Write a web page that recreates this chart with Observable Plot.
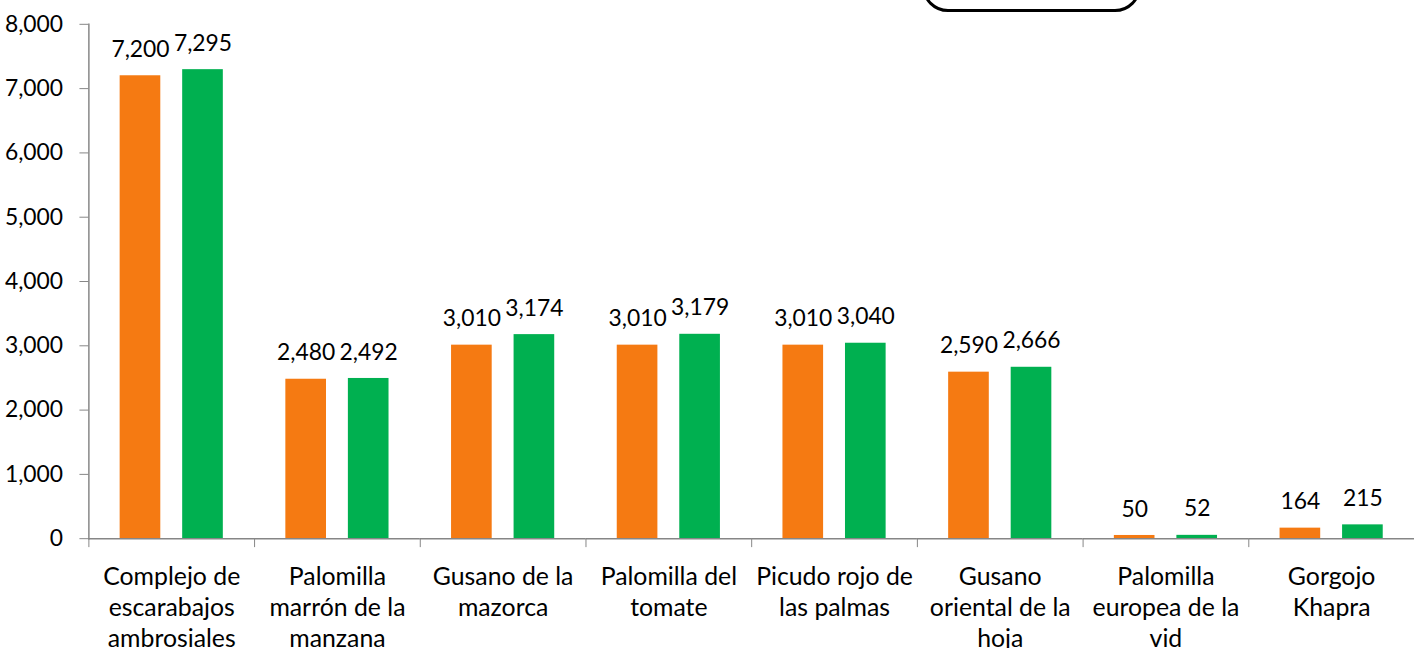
<!DOCTYPE html>
<html><head><meta charset="utf-8">
<script src="https://cdn.jsdelivr.net/npm/d3@7"></script>
<script src="https://cdn.jsdelivr.net/npm/@observablehq/plot@0.6"></script>
<style>
html,body{margin:0;padding:0;background:#fff;overflow:hidden;}
#wrap{position:relative;width:1414px;height:653px;overflow:hidden;}
#legendbox{position:absolute;left:922px;top:-42px;width:213px;height:48px;border:3px solid #000;border-radius:26px;}
</style></head><body>
<div id="wrap"><div id="chart"></div><div id="legendbox"></div></div>
<script>
const categories = [
  "Complejo de\nescarabajos\nambrosiales",
  "Palomilla\nmarrón de la\nmanzana",
  "Gusano de la\nmazorca",
  "Palomilla del\ntomate",
  "Picudo rojo de\nlas palmas",
  "Gusano\noriental de la\nhoja",
  "Palomilla\neuropea de la\nvid",
  "Gorgojo\nKhapra"
];
const seriesNames = ["Serie 1", "Serie 2"];
const valuesOrange = [7200, 2480, 3010, 3010, 3010, 2590, 50, 164];
const valuesGreen = [7295, 2492, 3174, 3179, 3040, 2666, 52, 215];
const yTicks = [0, 1000, 2000, 3000, 4000, 5000, 6000, 7000, 8000];
const seriesColors = ["#F57A12", "#00B050"];

const data = categories.flatMap((c, i) => [
  {cat: c, series: seriesNames[0], value: valuesOrange[i]},
  {cat: c, series: seriesNames[1], value: valuesGreen[i]}
]);

const fmt = d3.format(",d");
const plot = Plot.plot({
  width: 1424, height: 653,
  marginLeft: 89, marginRight: 0, marginTop: 24, marginBottom: 111,
  style: {fontFamily: "Lato", fontSize: "23px", color: "#000", background: "#fff"},
  fx: {domain: categories, padding: 0, round: false, label: null},
  x: {domain: seriesNames, paddingInner: 0.35, paddingOuter: 0.5, round: false, axis: null},
  y: {domain: [0, 8000], label: null},
  color: {domain: seriesNames, range: seriesColors},
  marks: [
    Plot.barY(data, {fx: "cat", x: "series", y: "value", fill: "series"}),
    Plot.text(data, {fx: "cat", x: "series", y: "value", text: d => fmt(d.value), dy: -19, lineAnchor: "bottom", fill: "#000"}),
    Plot.ruleY([0], {stroke: "#868686", strokeWidth: 1.5}),
    Plot.frame({anchor: "left", facetAnchor: "left", stroke: "#868686", strokeWidth: 1.5}),
    Plot.axisY({ticks: yTicks, tickSize: 9, tickPadding: 17, tickFormat: d => fmt(d), stroke: "#868686", fill: "#000", label: null}),
    Plot.axisFx({anchor: "bottom", tickSize: 0, tickPadding: 25, lineHeight: 1.24, fontSize: 25, fill: "#000", label: null}),
    Plot.axisFx({anchor: "bottom", tickSize: 9, tickFormat: () => "", dx: -83.44, stroke: "#868686", label: null})
  ]
});
document.getElementById("chart").appendChild(plot);
</script>
</body></html>
